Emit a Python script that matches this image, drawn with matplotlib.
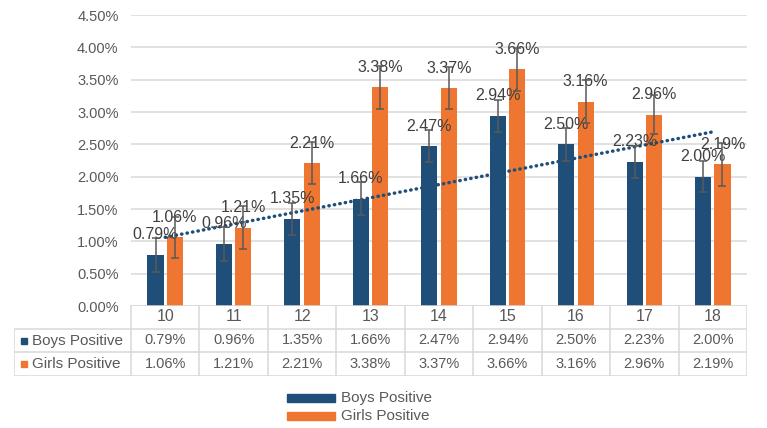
import numpy as np
import matplotlib.pyplot as plt
from matplotlib.patches import Rectangle

plt.rcParams['font.family'] = ['Liberation Sans', 'DejaVu Sans']

AGES = ["10", "11", "12", "13", "14", "15", "16", "17", "18"]
BOYS = [0.79, 0.96, 1.35, 1.66, 2.47, 2.94, 2.50, 2.23, 2.00]
GIRLS = [1.06, 1.21, 2.21, 3.38, 3.37, 3.66, 3.16, 2.96, 2.19]
BOYS_ERR = [0.26, 0.26, 0.25, 0.25, 0.25, 0.25, 0.25, 0.25, 0.24]
GIRLS_ERR = [0.32, 0.33, 0.33, 0.33, 0.32, 0.33, 0.33, 0.30, 0.33]
SERIES = ["Boys Positive", "Girls Positive"]

NAVY = "#1F4E79"
ORANGE = "#EF7630"
GRID = "#D9D9D9"
TEXT = "#595959"
ERRC = "#595959"

W, H = 767, 428


def fx(px):
    return px / W


def fy(py):
    return 1 - py / H


fig = plt.figure(figsize=(W / 100, H / 100), dpi=100)

# main chart area
ax = fig.add_axes([fx(131), fy(306), fx(747) - fx(131), fy(15) - fy(306)])
x = np.arange(len(AGES))
off = 0.142
bw = 0.234

ax.bar(x - off, BOYS, bw, color=NAVY, zorder=2)
ax.bar(x + off, GIRLS, bw, color=ORANGE, zorder=2)
ax.errorbar(x - off, BOYS, yerr=BOYS_ERR, fmt="none", ecolor=ERRC,
            elinewidth=1.1, capsize=3.2, capthick=1.1, zorder=5)
ax.errorbar(x + off, GIRLS, yerr=GIRLS_ERR, fmt="none", ecolor=ERRC,
            elinewidth=1.1, capsize=3.2, capthick=1.1, zorder=5)

# data labels
for xs, vals in [(x - off, BOYS), (x + off, GIRLS)]:
    for xi, v in zip(xs, vals):
        ax.annotate(f"{v:.2f}%", (xi, v), xytext=(0, 20),
                    textcoords="offset pixels", ha="center", va="center",
                    fontsize=11.5, color="#404040", zorder=4)

# linear trendline of the boys series
slope, inter = np.polyfit(x, BOYS, 1)
ax.plot(x, slope * x + inter, color=NAVY, lw=2.5,
        linestyle=(0, (0.1, 1.5)), dash_capstyle="round", zorder=3)

ax.set_xlim(-0.5, len(AGES) - 0.5)
ax.set_ylim(0, 4.5)
ticks = np.arange(0, 4.51, 0.5)
ax.set_yticks(ticks)
ax.set_yticklabels([f"{t:.2f}%" for t in ticks], fontsize=10.5, color=TEXT)
ax.set_xticks([])
ax.tick_params(axis="y", length=0, pad=9)
ax.grid(axis="y", color=GRID, lw=1.1, zorder=0)
ax.set_axisbelow(True)
for s in ax.spines.values():
    s.set_visible(False)

# data table under the chart
unit = (747 - 131) / len(AGES)
left = -0.5 - (131 - 14) / unit
tab = fig.add_axes([fx(14), fy(376), fx(747) - fx(14), fy(305) - fy(376)])
tab.set_xlim(left, len(AGES) - 0.5)
tab.set_ylim(3, 0)
tab.axis("off")

tab.hlines(0, -0.5, len(AGES) - 0.5, color=GRID, lw=1.1)
tab.hlines([1, 2, 3], left, len(AGES) - 0.5, color=GRID, lw=1.1)
tab.vlines(np.arange(-0.5, len(AGES)), 0, 3, color=GRID, lw=1.1)
tab.vlines(left, 1, 3, color=GRID, lw=1.1)

for i, age in enumerate(AGES):
    tab.text(i, 0.5, age, ha="center", va="center", fontsize=11.5,
             color=TEXT)
    tab.text(i, 1.5, f"{BOYS[i]:.2f}%", ha="center", va="center",
             fontsize=10.5, color=TEXT)
    tab.text(i, 2.5, f"{GIRLS[i]:.2f}%", ha="center", va="center",
             fontsize=10.5, color=TEXT)

for r, (name, col) in enumerate(zip(SERIES, [NAVY, ORANGE])):
    tab.plot(left + 10 / unit, r + 1.5, marker="s", ms=5, color=col,
             clip_on=False)
    tab.text(left + 18 / unit, r + 1.5, name, ha="left", va="center",
             fontsize=11, color=TEXT)

# legend below table
for i, (name, col) in enumerate(zip(SERIES, [NAVY, ORANGE])):
    top = 394 + i * 18
    fig.add_artist(Rectangle((fx(287), fy(top + 8)), fx(335) - fx(287),
                             fy(top) - fy(top + 8), color=col,
                             transform=fig.transFigure))
    fig.text(fx(341), fy(top + 4), name, ha="left", va="center",
             fontsize=11, color=TEXT)

fig.savefig("out.png", dpi=100)
